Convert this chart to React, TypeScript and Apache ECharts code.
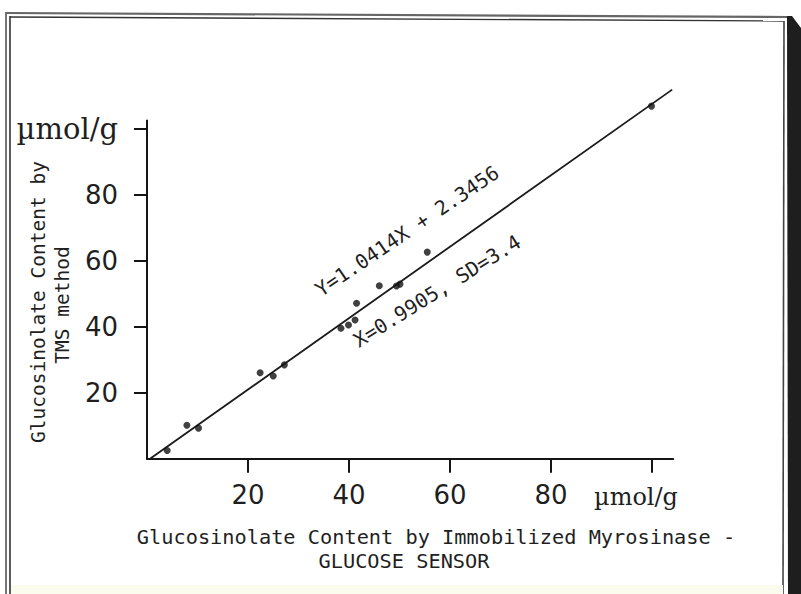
import React, { useEffect, useRef } from "react";
import * as echarts from "echarts";

// Data
const xValues = [4.0, 7.9, 10.2, 22.4, 25.0, 27.2, 38.4, 39.9, 41.2, 41.5, 46.0, 49.4, 50.1, 55.5, 99.9];
const yValues = [2.5, 10.2, 9.3, 26.1, 25.1, 28.5, 39.6, 40.6, 42.1, 47.2, 52.5, 52.4, 53.0, 62.7, 107.0];
// regression line endpoints as drawn
const lineX = [0.6, 104.0];
const lineY = [0, 112.0];

const xTickValues = [20, 40, 60, 80, 100];
const xLabelValues = [20, 40, 60, 80];
const yTickValues = [20, 40, 60, 80, 100];
const yLabelValues = [20, 40, 60, 80, 100];

const unitText = "\u00b5mol/g";
const eqText = "Y=1.0414X + 2.3456";
const statText = "X=0.9905, SD=3.4";
const yTitle1 = "Glucosinolate Content by";
const yTitle2 = "TMS method";
const xTitle1 = "Glucosinolate Content by Immobilized Myrosinase -";
const xTitle2 = "GLUCOSE SENSOR";

export default function App() {
  const ref = useRef<HTMLDivElement>(null);
  useEffect(() => {
    if (!ref.current) return;
    const chart = echarts.init(ref.current, undefined, { renderer: "svg" });
    const ink = "#1f1f1f";
    const mono = "DejaVu Sans Mono";
    const option: any = {
      animation: false,
      backgroundColor: "#ffffff",
      grid: {
        left: 147,
        top: 120.6,
        width: 526.2,
        height: 338.2,
        containLabel: false,
        outerBoundsMode: "none",
      },
      xAxis: {
        type: "value",
        min: 0,
        max: 104.2,
        interval: 20,
        splitLine: { show: false },
        axisLine: { lineStyle: { color: "#151515", width: 2 } },
        axisTick: {
          customValues: xTickValues,
          length: 14,
          lineStyle: { color: "#151515", width: 2 },
        },
        axisLabel: {
          customValues: xLabelValues,
          margin: 23,
          color: ink,
          fontFamily: "DejaVu Sans",
          fontSize: 26,
        },
      },
      yAxis: {
        type: "value",
        min: 0,
        max: 102.6,
        interval: 20,
        splitLine: { show: false },
        axisLine: { lineStyle: { color: "#151515", width: 2 } },
        axisTick: {
          customValues: yTickValues,
          length: 13,
          lineStyle: { color: "#151515", width: 2 },
        },
        axisLabel: {
          customValues: yLabelValues,
          margin: 29,
          color: ink,
          fontFamily: "DejaVu Sans",
          fontSize: 26,
          formatter: (v: number) => (v === 100 ? "{u|" + unitText + "}" : String(v)),
          rich: {
            u: { fontFamily: "DejaVu Serif", fontSize: 29, color: ink },
          },
        },
      },
      series: [
        {
          type: "line",
          data: lineX.map((x, i) => [x, lineY[i]]),
          symbol: "none",
          clip: false,
          lineStyle: { color: "#1a1a1a", width: 1.8 },
          z: 2,
        },
        {
          type: "scatter",
          data: xValues.map((x, i) => [x, yValues[i]]),
          symbolSize: 7,
          clip: false,
          itemStyle: { color: "#111" },
          z: 3,
        },
      ],
      graphic: [
        // scan frame
        { type: "line", shape: { x1: 6, y1: 12, x2: 6, y2: 594 }, style: { stroke: "#777", lineWidth: 2 } },
        { type: "line", shape: { x1: 10, y1: 16, x2: 10, y2: 594 }, style: { stroke: "#333", lineWidth: 1.6 } },
        { type: "line", shape: { x1: 6, y1: 13, x2: 788, y2: 17 }, style: { stroke: "#666", lineWidth: 2.2 } },
        { type: "line", shape: { x1: 10, y1: 17, x2: 784, y2: 21 }, style: { stroke: "#333", lineWidth: 1.4 } },
        { type: "line", shape: { x1: 784, y1: 21, x2: 783, y2: 594 }, style: { stroke: "#444", lineWidth: 1.6 } },
        {
          type: "polygon",
          shape: { points: [[787, 16], [792, 16], [801, 28], [801, 594], [788, 594]] },
          style: { fill: "#1e1e1e" },
        },
        { type: "rect", shape: { x: 11, y: 585, width: 772, height: 9 }, style: { fill: "#fbfbee" } },
        // axis titles
        {
          type: "text",
          x: 38,
          y: 302,
          rotation: Math.PI / 2,
          style: { text: yTitle1, font: `19.5px "${mono}"`, fill: ink, align: "center", verticalAlign: "middle" },
        },
        {
          type: "text",
          x: 62,
          y: 305,
          rotation: Math.PI / 2,
          style: { text: yTitle2, font: `19.5px "${mono}"`, fill: ink, align: "center", verticalAlign: "middle" },
        },
        {
          type: "text",
          x: 436,
          y: 537,
          style: { text: xTitle1, font: `20.3px "${mono}"`, fill: ink, align: "center", verticalAlign: "middle" },
        },
        {
          type: "text",
          x: 404,
          y: 561,
          style: { text: xTitle2, font: `20.3px "${mono}"`, fill: ink, align: "center", verticalAlign: "middle" },
        },
        // x unit
        {
          type: "text",
          x: 636,
          y: 497,
          style: { text: unitText, font: `24px "DejaVu Serif"`, fill: ink, align: "center", verticalAlign: "middle" },
        },
        // annotations
        {
          type: "text",
          x: 407,
          y: 231,
          rotation: (34 * Math.PI) / 180,
          style: { text: eqText, font: `20px "${mono}"`, fill: ink, align: "center", verticalAlign: "middle" },
        },
        {
          type: "text",
          x: 437,
          y: 291,
          rotation: (32 * Math.PI) / 180,
          style: { text: statText, font: `20px "${mono}"`, fill: ink, align: "center", verticalAlign: "middle" },
        },
      ],
    };
    chart.setOption(option);
    return () => chart.dispose();
  }, []);
  return (
    <div
      ref={ref}
      style={{ position: "fixed", left: 0, top: 0, width: 801, height: 594, background: "#fff" }}
    />
  );
}
